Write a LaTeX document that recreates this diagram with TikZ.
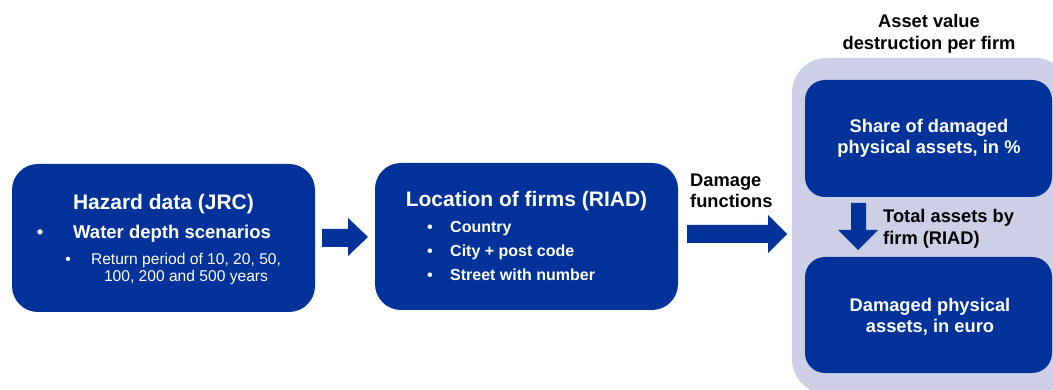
\documentclass[tikz,border=0pt]{standalone}
\usepackage{fontspec}
\setmainfont{Liberation Sans}
\definecolor{ecbblue}{RGB}{0,50,153}
\definecolor{ecblight}{RGB}{204,207,230}
\begin{document}
\begin{tikzpicture}[x=1pt,y=-1pt,
  bluebox/.style={fill=ecbblue, draw=none, rounded corners=26pt, inner sep=0pt},
  innerbox/.style={fill=ecbblue, draw=none, rounded corners=20pt, inner sep=0pt},
  blockarrow/.style={fill=ecbblue, draw=none},
  wtxt/.style={text=white, inner sep=0pt, anchor=base},
  wtxtl/.style={text=white, inner sep=0pt, anchor=base west},
  ktxt/.style={text=black, inner sep=0pt, anchor=base},
  ktxtl/.style={text=black, inner sep=0pt, anchor=base west},
  ftitle/.style={font=\fontsize{21}{25}\selectfont\bfseries},
  fsub/.style={font=\fontsize{18.5}{22}\selectfont\bfseries},
  flab/.style={font=\fontsize{18.3}{22}\selectfont\bfseries},
  fbul/.style={font=\fontsize{16}{19}\selectfont\bfseries},
  freg/.style={font=\fontsize{15.6}{18}\selectfont},
]
\useasboundingbox (0,0) rectangle (1053,390);
\clip (0,0) rectangle (1053,390);

% boxes
\node[bluebox, minimum width=303pt, minimum height=148pt] (hazard) at (163.5,238) {};
\node[bluebox, minimum width=303pt, minimum height=147pt] (location) at (526.5,236.5) {};
\fill[ecblight, rounded corners=35pt] (792,58) rectangle (1070,394);
\node[innerbox, minimum width=247pt, minimum height=117pt] (share) at (928.5,138.5) {};
\node[innerbox, minimum width=247pt, minimum height=116pt] (damaged) at (928.5,315) {};

% hazard text
\node[wtxt, ftitle] (hazT) at (163.5,210) {Hazard data (JRC)};
\node[wtxt, fsub] (hazB1) at (40,239) {•};
\node[wtxtl, fsub] (hazW) at (73,239) {Water depth scenarios};
\node[wtxt, freg] (hazB2) at (68,265) {•};
\node[wtxt, freg] (hazR1) at (186,265) {Return period of 10, 20, 50,};
\node[wtxt, freg] (hazR2) at (186,282) {100, 200 and 500 years};

% location text
\node[wtxt, ftitle] (locT) at (526.5,207) {Location of firms (RIAD)};
\node[wtxt, fbul] (locB1) at (430,233) {•};
\node[wtxtl, fbul] (locC) at (450,233) {Country};
\node[wtxt, fbul] (locB2) at (430,257) {•};
\node[wtxtl, fbul] (locP) at (450,257) {City + post code};
\node[wtxt, fbul] (locB3) at (430,281) {•};
\node[wtxtl, fbul] (locS) at (450,281) {Street with number};

% labels
\node[ktxtl, flab] (dam1) at (690,187) {Damage};
\node[ktxtl, flab] (dam2) at (690,208) {functions};
\node[ktxt, flab] (av1) at (929,28) {Asset value};
\node[ktxt, flab] (av2) at (929,50) {destruction per firm};
\node[ktxtl, flab] (ta1) at (883,223) {Total assets by};
\node[ktxtl, flab] (ta2) at (883,245) {firm (RIAD)};

% inner box text
\node[wtxt, flab] (sh1) at (929,133) {Share of damaged};
\node[wtxt, flab] (sh2) at (929,154) {physical assets, in \%};
\node[wtxt, flab] (dp1) at (930,312) {Damaged physical};
\node[wtxt, flab] (dp2) at (930,332) {assets, in euro};

% block arrows
\fill[blockarrow] (322,229) -- (348,229) -- (348,218) -- (368,237) -- (348,256) -- (348,247) -- (322,247) -- cycle;
\fill[blockarrow] (687,225) -- (768,225) -- (768,215) -- (787,234) -- (768,253) -- (768,243) -- (687,243) -- cycle;
\fill[blockarrow] (851,203) -- (866,203) -- (866,230) -- (878,230) -- (858,250) -- (838,230) -- (851,230) -- cycle;
\end{tikzpicture}
\end{document}
